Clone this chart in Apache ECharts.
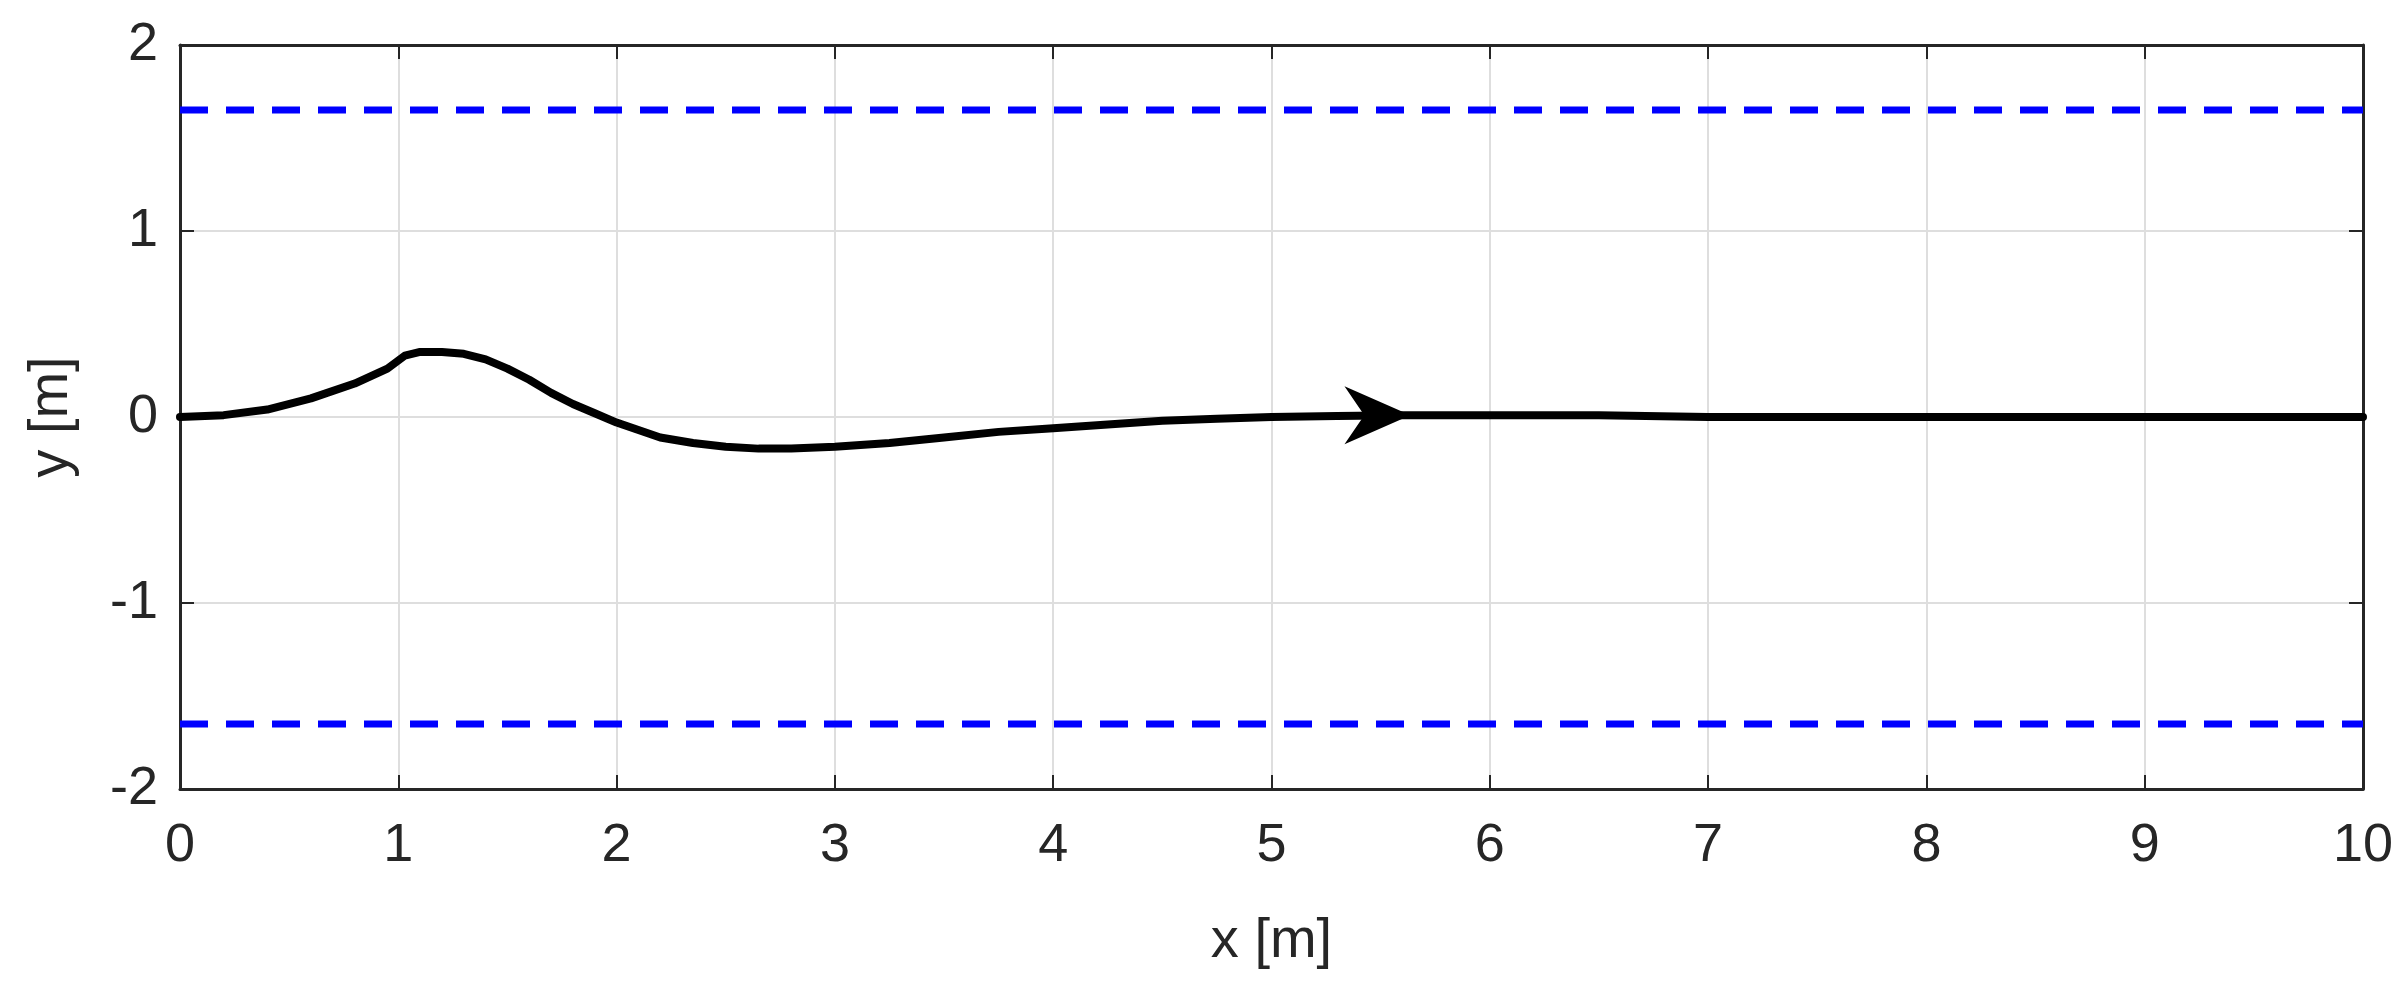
<!DOCTYPE html>
<html>
<head>
<meta charset="utf-8">
<script src="https://cdn.jsdelivr.net/npm/echarts@6/dist/echarts.min.js"></script>
<style>html,body{margin:0;padding:0;background:#fff}#chart{width:2400px;height:999px}</style>
</head>
<body>
<div id="chart"></div>
<script>
// trajectory samples
var pathX = [0, 0.2, 0.4, 0.6, 0.8, 0.95, 1.03, 1.1, 1.2, 1.3, 1.4, 1.5, 1.6, 1.7, 1.8, 1.9, 2.0, 2.1, 2.2, 2.35, 2.5, 2.65, 2.8, 3.0, 3.25, 3.5, 3.75, 4.0, 4.25, 4.5, 4.75, 5.0, 5.3, 5.6, 6.0, 6.5, 7.0, 8.0, 9.0, 10.0];
var pathY = [0, 0.01, 0.04, 0.1, 0.18, 0.26, 0.33, 0.35, 0.35, 0.34, 0.31, 0.26, 0.2, 0.13, 0.07, 0.02, -0.03, -0.07, -0.11, -0.14, -0.16, -0.17, -0.17, -0.16, -0.14, -0.11, -0.08, -0.06, -0.04, -0.02, -0.01, 0.0, 0.005, 0.01, 0.01, 0.01, 0.0, 0.0, 0.0, 0.0];
var boundY = [1.65, -1.65];
var xRange = [0, 10];
var arrowAt = [5.6, 0.01];

var chart = echarts.init(document.getElementById('chart'));
var font = 'Liberation Sans, Arial, sans-serif';
var ink = '#262626';

var pathData = pathX.map(function(x, i) { return [x, pathY[i]]; });

var boundSeries = boundY.map(function(b) {
    return {
        type: 'line',
        data: [[xRange[0], b], [xRange[1], b]],
        symbol: 'none',
        silent: true,
        lineStyle: { color: '#0000ff', width: 7, type: [28, 18] }
    };
});

function frameAxis(extra) {
    var base = {
        type: 'value',
        axisLine: { show: true, onZero: false, lineStyle: { color: ink, width: 3 } },
        axisTick: { show: true, inside: true, length: 14, lineStyle: { color: ink, width: 2 } },
        axisLabel: { fontFamily: font, fontSize: 54, color: ink },
        splitLine: { show: false }
    };
    return Object.assign(base, extra);
}

var option = {
    animation: false,
    grid: { left: 180, right: 37, top: 45, bottom: 210 },
    xAxis: [
        frameAxis({
            min: 0, max: 10, interval: 1, position: 'bottom',
            name: 'x [m]', nameLocation: 'middle', nameGap: 125,
            nameTextStyle: { fontFamily: font, fontSize: 56, color: ink },
            axisLabel: { fontFamily: font, fontSize: 54, color: ink, margin: 30 },
            splitLine: { show: true, lineStyle: { color: '#dedede', width: 2 } }
        }),
        frameAxis({ min: 0, max: 10, interval: 1, position: 'top', axisLabel: { show: false } })
    ],
    yAxis: [
        frameAxis({
            min: -2, max: 2, interval: 1, position: 'left',
            name: 'y [m]', nameLocation: 'middle', nameGap: 100, nameRotate: 90,
            nameTextStyle: { fontFamily: font, fontSize: 56, color: ink },
            axisLabel: { fontFamily: font, fontSize: 54, color: ink, margin: 22 },
            splitLine: { show: true, lineStyle: { color: '#dedede', width: 2 } }
        }),
        frameAxis({ min: -2, max: 2, interval: 1, position: 'right', axisLabel: { show: false } })
    ],
    series: boundSeries.concat([{
        type: 'line',
        data: pathData,
        symbol: 'none',
        lineStyle: { color: '#000', width: 8, join: 'round', cap: 'round' },
        markPoint: {
            symbol: 'path://M0,0 L10,5 L0,10 L3,5 Z',
            symbolSize: [66, 58],
            symbolOffset: [-25, 0],
            itemStyle: { color: '#000' },
            label: { show: false },
            data: [{ coord: arrowAt }]
        }
    }])
};

chart.setOption(option);
</script>
</body>
</html>
